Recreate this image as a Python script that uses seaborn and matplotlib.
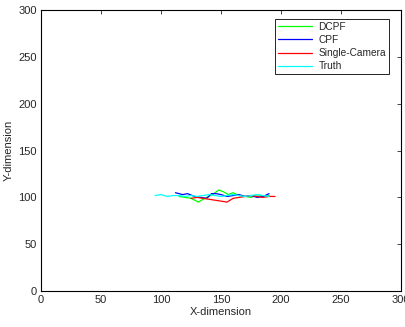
import pandas as pd
import matplotlib
matplotlib.use('Agg')
import matplotlib.pyplot as plt
import seaborn as sns

# trajectories
truth_x = [95, 100, 105, 110, 115, 120, 125, 130, 135, 140, 145, 150, 155, 160, 165, 170, 175, 180, 185, 190]
truth_y = [102, 103, 101, 102, 102, 101, 102, 101, 102, 103, 102, 101, 102, 103, 102, 101, 102, 103, 102, 101]

cpf_x = [112, 118, 122, 128, 133, 138, 142, 146, 150, 155, 160, 165, 170, 175, 180, 185, 190]
cpf_y = [105, 103, 104, 101, 100, 99, 104, 104, 103, 101, 102, 103, 101, 102, 100, 101, 104]

dcpf_x = [115, 120, 125, 128, 131, 135, 140, 144, 148, 152, 156, 160, 165, 170, 175, 180, 185, 190]
dcpf_y = [101, 100, 99, 97, 95, 98, 101, 104, 108, 106, 103, 105, 102, 101, 100, 103, 101, 102]

single_x = [125, 130, 135, 140, 145, 150, 155, 160, 165, 170, 175, 180, 185, 190, 195]
single_y = [99, 100, 99, 98, 97, 96, 95, 99, 100, 101, 102, 101, 100, 101, 101]

series = ['DCPF', 'CPF', 'Single-Camera', 'Truth']
colors = ['#00ff00', '#0000ff', '#ff0000', '#00ffff']

frames = []
for name, xs, ys in [('DCPF', dcpf_x, dcpf_y), ('CPF', cpf_x, cpf_y),
                     ('Single-Camera', single_x, single_y), ('Truth', truth_x, truth_y)]:
    frames.append(pd.DataFrame({'x': xs, 'y': ys, 'method': name}))
df = pd.concat(frames, ignore_index=True)

sns.set_style('white')
plt.rcParams['font.family'] = ['Liberation Sans', 'DejaVu Sans']

fig = plt.figure(figsize=(4.06, 3.27), dpi=100)
ax = fig.add_axes([0.101, 0.110, 0.887, 0.859])
sns.lineplot(data=df, x='x', y='y', hue='method', hue_order=series,
             palette=colors, sort=False, estimator=None, units='method',
             linewidth=0.9, ax=ax)

ax.set_xlim(0, 300)
ax.set_ylim(0, 300)
ax.set_xticks(range(0, 301, 50))
ax.set_yticks(range(0, 301, 50))
ax.set_xlabel('X-dimension', fontsize=8, labelpad=1)
ax.set_ylabel('Y-dimension', fontsize=8, labelpad=3)
ax.tick_params(direction='in', length=3, labelsize=8, top=True, right=True, pad=3, width=0.6)
for s in ax.spines.values():
    s.set_linewidth(0.8)
    s.set_color('black')

leg = ax.legend(loc='upper right', bbox_to_anchor=(0.967, 0.97), borderaxespad=0,
                fontsize=7.3, frameon=True, fancybox=False, edgecolor='black',
                framealpha=1, handlelength=3.4, handletextpad=0.6, borderpad=0.3,
                labelspacing=0.32)
leg.get_frame().set_linewidth(0.6)

fig.savefig('out.png', dpi=100)
